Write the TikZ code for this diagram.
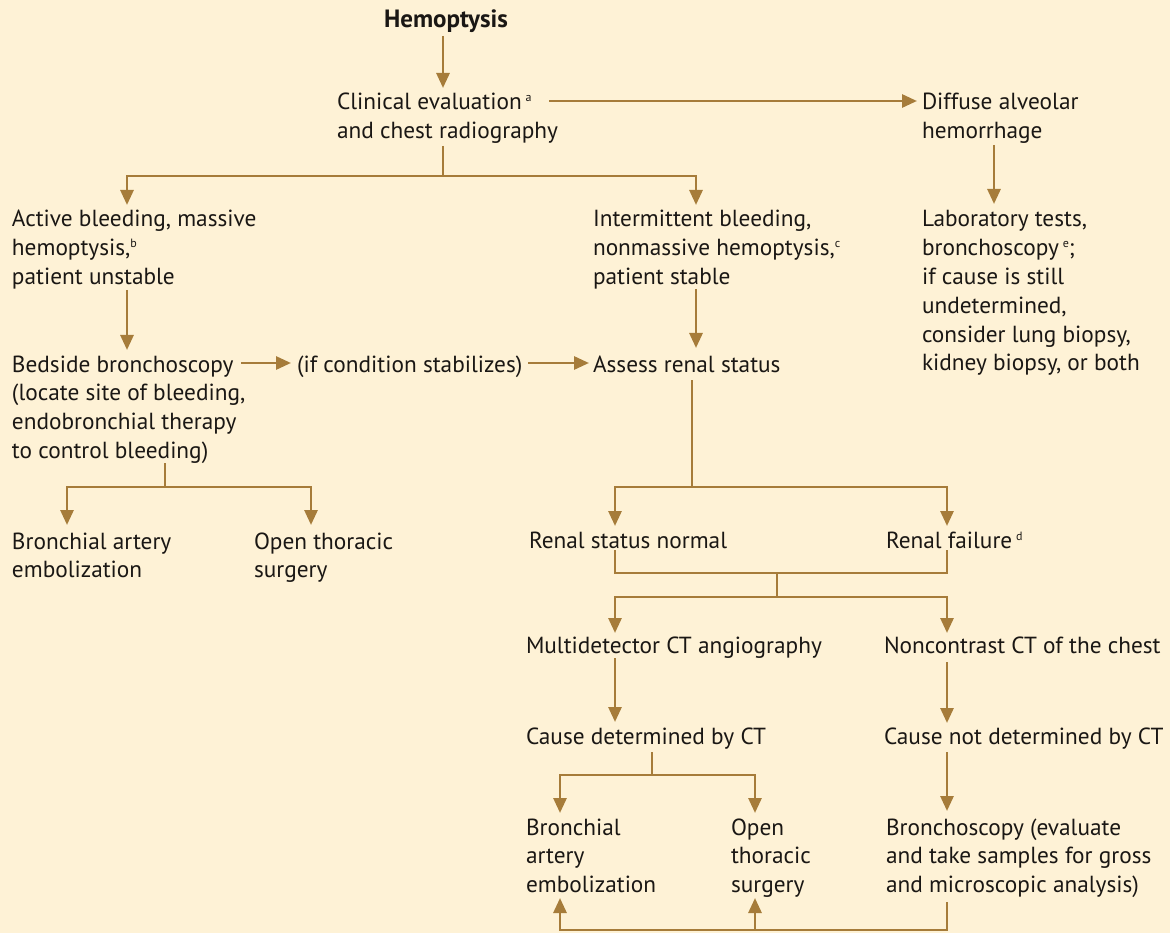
\documentclass[tikz,border=0pt]{standalone}
\usepackage{fontspec}
\setmainfont{PT Sans}
\usetikzlibrary{arrows.meta}
\definecolor{bgcream}{RGB}{254,242,214}
\definecolor{linebrown}{RGB}{166,124,58}
\definecolor{textblack}{RGB}{26,23,20}
\newcommand{\mlines}[1]{\vtop{\baselineskip=28.8pt\lineskiplimit=-100pt\halign{##\hfil\cr#1\crcr}}}
\newcommand{\supmark}[1]{\raisebox{8pt}{\fontsize{12}{12}\selectfont #1}}
\tikzset{
  txt/.style={anchor=base west, inner sep=0pt, outer sep=0pt, text=textblack,
    font=\fontsize{23.3}{28.8}\selectfont},
  link/.style={line width=2.8pt, draw=linebrown},
  tipend/.style={-{Triangle[length=15pt,width=13pt]}},
  tipboth/.style={{Triangle[length=15pt,width=13pt]}-{Triangle[length=15pt,width=13pt]}},
}
\begin{document}
\begin{tikzpicture}[x=1pt,y=-1pt]
\fill[bgcream] (0,0) rectangle (1170,933);
\useasboundingbox (0,0) rectangle (1170,933);

% ---- text nodes
\node[txt, anchor=base, font=\fontsize{25}{28.8}\selectfont\bfseries] (hemo) at (446,28) {Hemoptysis};
\node[txt] (clin) at (337,110) {\mlines{Clinical evaluation\,\supmark{a}\cr and chest radiography}};
\node[txt] (dah) at (922,110) {\mlines{Diffuse alveolar\cr hemorrhage}};
\node[txt] (lab) at (922,227) {\mlines{Laboratory tests,\cr bronchoscopy\,\supmark{e};\cr if cause is still\cr undetermined,\cr consider lung biopsy,\cr kidney biopsy, or both}};
\node[txt] (act) at (12,227) {\mlines{Active bleeding, massive\cr hemoptysis,\supmark{b}\cr patient unstable}};
\node[txt] (inter) at (593,227) {\mlines{Intermittent bleeding,\cr nonmassive hemoptysis,\supmark{c}\cr patient stable}};
\node[txt] (bed) at (12,372) {\mlines{Bedside bronchoscopy\cr (locate site of bleeding,\cr endobronchial therapy\cr to control bleeding)}};
\node[txt] (ifc) at (297,372) {(if condition stabilizes)};
\node[txt] (renal) at (593,372) {Assess renal status};
\node[txt] (baeA) at (12,549) {\mlines{Bronchial artery\cr embolization}};
\node[txt] (otsA) at (254,549) {\mlines{Open thoracic\cr surgery}};
\node[txt] (rnorm) at (529,548) {Renal status normal};
\node[txt] (rfail) at (886,548) {Renal failure\,\supmark{d}};
\node[txt] (mdct) at (526,653) {Multidetector CT angiography};
\node[txt] (ncct) at (884,653) {Noncontrast CT of the chest};
\node[txt] (cdet) at (526,744) {Cause determined by CT};
\node[txt] (cnot) at (884,744) {Cause not determined by CT};
\node[txt] (baeB) at (526,835) {\mlines{Bronchial\cr artery\cr embolization}};
\node[txt] (otsB) at (731,835) {\mlines{Open\cr thoracic\cr surgery}};
\node[txt] (bronch) at (886,835) {\mlines{Bronchoscopy (evaluate\cr and take samples for gross\cr and microscopic analysis)}};

% ---- connector end points
\coordinate (hemoOut) at (443,36);
\coordinate (clinIn) at (443,88);
\coordinate (clinRight) at (549,101);
\coordinate (dahIn) at (917,101);
\coordinate (dahOut) at (994,145);
\coordinate (labIn) at (994,204);
\coordinate (clinOut) at (443,146);
\coordinate (splitA) at (443,176);
\coordinate (actIn) at (127,205);
\coordinate (actCorner) at (127,176);
\coordinate (interCorner) at (696,176);
\coordinate (interIn) at (696,205);
\coordinate (actOut) at (127,290);
\coordinate (bedIn) at (127,350);
\coordinate (interOut) at (696,289);
\coordinate (renalIn) at (696,348);
\coordinate (bedRight) at (241,363);
\coordinate (ifcIn) at (291,363);
\coordinate (ifcRight) at (528,363);
\coordinate (renalLeft) at (589,363);
\coordinate (bedOut) at (165,463);
\coordinate (splitB) at (165,487);
\coordinate (baeAIn) at (67,525);
\coordinate (baeACorner) at (67,487);
\coordinate (otsACorner) at (311,487);
\coordinate (otsAIn) at (311,525);
\coordinate (renalOut) at (692,380);
\coordinate (splitC) at (692,487);
\coordinate (rnormIn) at (615,526);
\coordinate (rnormCorner) at (615,487);
\coordinate (rfailCorner) at (947,487);
\coordinate (rfailIn) at (947,526);
\coordinate (rnormOut) at (615,550);
\coordinate (rnormJoin) at (615,573);
\coordinate (rfailJoin) at (947,573);
\coordinate (rfailOut) at (947,550);
\coordinate (joinD) at (777,573);
\coordinate (splitD) at (777,597);
\coordinate (mdctIn) at (615,633);
\coordinate (mdctCorner) at (615,597);
\coordinate (ncctCorner) at (947,597);
\coordinate (ncctIn) at (947,633);
\coordinate (mdctOut) at (615,658);
\coordinate (cdetIn) at (615,722);
\coordinate (ncctOut) at (947,662);
\coordinate (cnotIn) at (947,723);
\coordinate (cdetOut) at (652,752);
\coordinate (splitE) at (652,775);
\coordinate (baeBIn) at (560,813);
\coordinate (baeBCorner) at (560,775);
\coordinate (otsBCorner) at (755,775);
\coordinate (otsBIn) at (755,813);
\coordinate (cnotOut) at (947,752);
\coordinate (bronchIn) at (947,811);
\coordinate (bronchOut) at (947,902);
\coordinate (bronchCorner) at (947,930);
\coordinate (otsBUp) at (755,898);
\coordinate (otsBFoot) at (755,930);
\coordinate (baeBFoot) at (560,930);
\coordinate (baeBUp) at (560,898);

% ---- connectors
\draw[link,tipend] (hemoOut) -- (clinIn);
\draw[link,tipend] (clinRight) -- (dahIn);
\draw[link,tipend] (dahOut) -- (labIn);
\draw[link] (clinOut) -- (splitA);
\draw[link,tipboth] (actIn) -- (actCorner) -- (interCorner) -- (interIn);
\draw[link,tipend] (actOut) -- (bedIn);
\draw[link,tipend] (interOut) -- (renalIn);
\draw[link,tipend] (bedRight) -- (ifcIn);
\draw[link,tipend] (ifcRight) -- (renalLeft);
\draw[link] (bedOut) -- (splitB);
\draw[link,tipboth] (baeAIn) -- (baeACorner) -- (otsACorner) -- (otsAIn);
\draw[link] (renalOut) -- (splitC);
\draw[link,tipboth] (rnormIn) -- (rnormCorner) -- (rfailCorner) -- (rfailIn);
\draw[link] (rnormOut) -- (rnormJoin) -- (rfailJoin) -- (rfailOut);
\draw[link] (joinD) -- (splitD);
\draw[link,tipboth] (mdctIn) -- (mdctCorner) -- (ncctCorner) -- (ncctIn);
\draw[link,tipend] (mdctOut) -- (cdetIn);
\draw[link,tipend] (ncctOut) -- (cnotIn);
\draw[link] (cdetOut) -- (splitE);
\draw[link,tipboth] (baeBIn) -- (baeBCorner) -- (otsBCorner) -- (otsBIn);
\draw[link,tipend] (cnotOut) -- (bronchIn);
\draw[link,tipend] (bronchOut) -- (bronchCorner) -- (baeBFoot) -- (baeBUp);
\draw[link,tipend] (otsBFoot) -- (otsBUp);
\end{tikzpicture}
\end{document}
